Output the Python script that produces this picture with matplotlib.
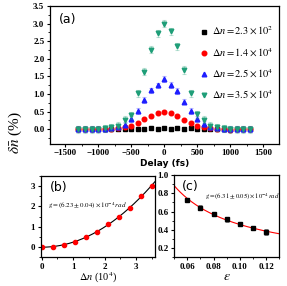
import numpy as np
import matplotlib
matplotlib.use('Agg')
import matplotlib.pyplot as plt
from matplotlib.ticker import MultipleLocator

plt.rcParams['mathtext.fontset'] = 'stix'
plt.rcParams['font.family'] = 'Liberation Serif'

# ---- panel (a) data ----
delay = [-1300, -1200, -1100, -1000, -900, -800, -700, -600, -500, -400, -300, -200, -100, 0,
         100, 200, 300, 400, 500, 600, 700, 800, 900, 1000, 1100, 1200, 1300]
dn_black = [0.0, 0.0, 0.01, 0.0, 0.0, 0.01, 0.0, 0.01, 0.01, 0.01, 0.0, 0.02, 0.0, 0.02,
            0.0, 0.02, 0.0, 0.02, 0.01, 0.01, 0.0, 0.0, 0.0, 0.0, 0.0, 0.0, 0.0]
dn_red = [0.0, 0.0, 0.0, -0.01, 0.0, 0.01, 0.03, 0.06, 0.1, 0.17, 0.28, 0.37, 0.46, 0.5,
          0.45, 0.37, 0.27, 0.17, 0.1, 0.06, 0.03, 0.01, 0.0, -0.02, 0.0, 0.0, 0.0]
dn_blue = [0.0, 0.0, 0.0, 0.0, 0.0, 0.02, 0.05, 0.13, 0.28, 0.52, 0.82, 1.1, 1.24, 1.43,
           1.26, 1.08, 0.78, 0.52, 0.28, 0.15, 0.05, 0.02, 0.0, 0.0, 0.0, 0.0, 0.0]
dn_green = [0.0, 0.0, 0.0, 0.0, 0.02, 0.05, 0.1, 0.27, 0.4, 1.02, 1.63, 2.25, 2.72, 3.0,
            2.78, 2.35, 1.68, 1.02, 0.42, 0.27, 0.1, 0.05, 0.02, 0.0, 0.0, 0.0, 0.0]
err_black, err_red, err_blue, err_green = 0.03, 0.05, 0.08, 0.1
labels_a = [r'$\Delta n = 2.3\times10^{2}$', r'$\Delta n = 1.4\times10^{4}$',
            r'$\Delta n = 2.5\times10^{4}$', r'$\Delta n = 3.5\times10^{4}$']

# ---- panel (b) data ----
dn_b = [0, 0.35, 0.7, 1.05, 1.4, 1.75, 2.1, 2.45, 2.8, 3.15, 3.5]
y_b = [0.0, 0.02, 0.11, 0.26, 0.49, 0.76, 1.13, 1.48, 1.93, 2.52, 3.0]

# ---- panel (c) data ----
eps_c = [0.06, 0.07, 0.08, 0.09, 0.10, 0.11, 0.12]
y_c = [0.73, 0.645, 0.57, 0.515, 0.47, 0.42, 0.375]
err_c = [0.015, 0.03, 0.02, 0.025, 0.02, 0.025, 0.03]

fig = plt.figure(figsize=(2.87, 2.86), dpi=100)

def style_axes(ax):
    ax.tick_params(direction='out', length=2.5, width=0.8, pad=1.5, top=False, right=False)
    ax.tick_params(which='minor', direction='out', length=1.5, width=0.6)
    for lbl in ax.get_xticklabels() + ax.get_yticklabels():
        lbl.set_fontsize(6.5)
        lbl.set_fontweight('bold')
    for s in ax.spines.values():
        s.set_linewidth(0.9)

# (a)
ax1 = fig.add_axes([0.174, 0.497, 0.798, 0.482])
series = [(dn_black, err_black, 's', 'black'), (dn_red, err_red, 'o', 'red'),
          (dn_blue, err_blue, '^', '#1e1eff'), (dn_green, err_green, 'v', '#1f9e78')]
for (vals, err, mk, col), lab in zip(series, labels_a):
    ax1.errorbar(delay, vals, yerr=err, fmt='none', ecolor=col, alpha=0.3,
                 elinewidth=0.8, capsize=1.5, capthick=0.8)
    ax1.plot(delay, vals, mk, color=col, markersize=3.3, linestyle='none', label=lab)
ax1.set_xlim(-1730, 1740)
ax1.set_ylim(-0.42, 3.5)
ax1.xaxis.set_major_locator(MultipleLocator(500))
ax1.xaxis.set_minor_locator(MultipleLocator(250))
ax1.yaxis.set_minor_locator(MultipleLocator(0.25))
ax1.set_yticks([0, 0.5, 1.0, 1.5, 2.0, 2.5, 3.0, 3.5])
ax1.set_yticklabels(['0.0', '0.5', '1.0', '1.5', '2.0', '2.5', '3.0', '3.5'])
style_axes(ax1)
ax1.set_xlabel('Delay (fs)', family='DejaVu Sans', fontweight='bold', fontsize=6.5, labelpad=1)
ax1.text(0.04, 0.88, '(a)', transform=ax1.transAxes, family='DejaVu Sans', fontsize=9)
leg = ax1.legend(loc='upper right', bbox_to_anchor=(1.0, 0.9), frameon=False, fontsize=7.5,
                 handlelength=0.6, handletextpad=0.5, labelspacing=0.85, borderaxespad=0.1)
fig.text(0.055, 0.535, r'$\delta\bar{n}$ (%)', rotation=90, fontsize=11, ha='center', va='center')

# (b)
ax2 = fig.add_axes([0.142, 0.1, 0.398, 0.285])
xb = np.array(dn_b)
yb = np.array(y_b)
a = np.sum(xb**2 * yb) / np.sum(xb**4)
xf = np.linspace(0, 3.6, 200)
ax2.plot(xf, a * xf**2, color='black', linewidth=0.8)
ax2.plot(dn_b, y_b, 'o', color='red', markersize=3)
ax2.set_xlim(-0.03, 3.6)
ax2.set_ylim(-0.5, 3.5)
ax2.xaxis.set_major_locator(MultipleLocator(1))
ax2.xaxis.set_minor_locator(MultipleLocator(0.5))
ax2.yaxis.set_major_locator(MultipleLocator(1))
ax2.yaxis.set_minor_locator(MultipleLocator(0.5))
style_axes(ax2)
ax2.set_xlabel(r'$\Delta n$ (10$^4$)', fontsize=7.5, labelpad=0)
ax2.text(0.08, 0.82, '(b)', transform=ax2.transAxes, family='DejaVu Sans', fontsize=9)
ax2.text(0.06, 0.62, r'$g=(6.23\pm0.04)\times10^{-4}\,rad$', transform=ax2.transAxes, fontsize=5)

# (c)
ax3 = fig.add_axes([0.607, 0.1, 0.366, 0.288])
xc = np.array(eps_c)
yc = np.array(y_c)
p = np.polyfit(np.log(xc), np.log(yc), 1)
xf = np.linspace(0.05, 0.13, 200)
ax3.plot(xf, np.exp(np.polyval(p, np.log(xf))), color='red', linewidth=0.8)
ax3.errorbar(eps_c, y_c, yerr=err_c, fmt='s', color='black', markersize=2.2,
             ecolor='gray', elinewidth=0.7, capsize=1.5, capthick=0.7)
ax3.set_xlim(0.05, 0.13)
ax3.set_ylim(0.1, 1.0)
ax3.xaxis.set_major_locator(MultipleLocator(0.02))
ax3.xaxis.set_minor_locator(MultipleLocator(0.01))
ax3.set_yticks([0.2, 0.4, 0.6, 0.8, 1.0])
ax3.yaxis.set_minor_locator(MultipleLocator(0.1))
style_axes(ax3)
ax3.set_xlabel(r'$\varepsilon$', fontsize=10, labelpad=-1)
ax3.text(0.07, 0.82, '(c)', transform=ax3.transAxes, family='DejaVu Sans', fontsize=9)
ax3.text(0.29, 0.73, r'$g=(6.31\pm0.05)\times10^{-4}\,rad$', transform=ax3.transAxes, fontsize=4.8)

fig.savefig('out.png', dpi=100)
